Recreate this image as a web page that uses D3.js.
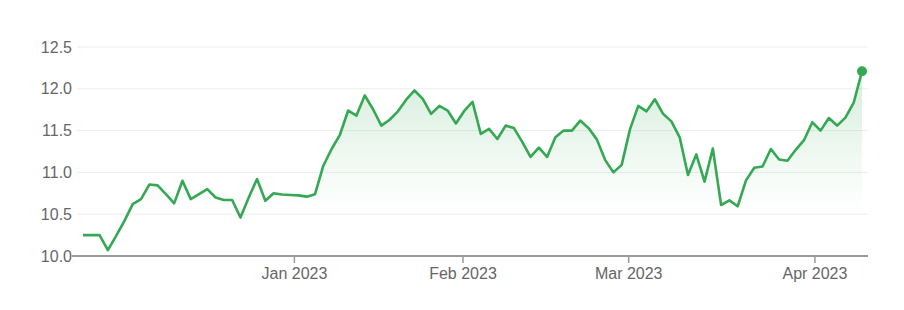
<!DOCTYPE html>
<html>
<head>
<meta charset="utf-8">
<script src="https://cdn.jsdelivr.net/npm/d3@7"></script>
<style>
  body { margin: 0; background: #fff; }
  svg { display: block; font-family: "Liberation Sans", Arial, sans-serif; }
</style>
</head>
<body>
<script>
// closing prices, one per trading day (late Nov 2022 -> mid Apr 2023)
const prices = [
  10.25, 10.25, 10.25, 10.07, 10.24, 10.42, 10.62, 10.68, 10.855, 10.845,
  10.74, 10.63, 10.90, 10.68, 10.74, 10.80, 10.70, 10.67, 10.67, 10.46,
  10.70, 10.92, 10.66, 10.75, 10.735, 10.73, 10.725, 10.71, 10.74, 11.08,
  11.28, 11.45, 11.74, 11.68, 11.92, 11.755, 11.56, 11.63, 11.73, 11.87,
  11.98, 11.88, 11.70, 11.795, 11.74, 11.585, 11.735, 11.845, 11.46, 11.52,
  11.40, 11.56, 11.53, 11.365, 11.185, 11.295, 11.185, 11.42, 11.50, 11.50,
  11.62, 11.53, 11.395, 11.15, 11.00, 11.09, 11.515, 11.795, 11.73, 11.875,
  11.70, 11.61, 11.42, 10.97, 11.215, 10.89, 11.285, 10.61, 10.665, 10.595,
  10.905, 11.055, 11.07, 11.28, 11.155, 11.14, 11.27, 11.385, 11.60, 11.50,
  11.65, 11.56, 11.655, 11.835, 12.21
];

// month starts, as (fractional) positions in the trading-day index
const monthLabels = ["Jan 2023", "Feb 2023", "Mar 2023", "Apr 2023"];
const monthPos = [25.45, 45.79, 65.79, 88.26];

const yTicks = [10, 10.5, 11, 11.5, 12, 12.5];

const width = 904, height = 310;
const margin = {top: 47, right: 36, bottom: 54, left: 77};
const pad = 6;

let svg = d3.select("body").append("svg")
    .attr("width", width)
    .attr("height", height);

let x = d3.scaleLinear()
    .domain([0, prices.length - 1])
    .range([margin.left + pad, width - margin.right - pad]);

let y = d3.scaleLinear()
    .domain([10, 12.5])
    .range([height - margin.bottom, margin.top]);

// gradient under the line, fades out before the baseline
let defs = svg.append("defs");
let grad = defs.append("linearGradient")
    .attr("id", "areaFill")
    .attr("gradientUnits", "userSpaceOnUse")
    .attr("x1", 0).attr("x2", 0)
    .attr("y1", y(d3.max(prices))).attr("y2", y(10));
grad.append("stop").attr("offset", "0%").attr("stop-color", "#34a853").attr("stop-opacity", 0.2);
grad.append("stop").attr("offset", "75%").attr("stop-color", "#34a853").attr("stop-opacity", 0);

// grid lines
svg.append("g")
    .selectAll("line")
    .data(yTicks.filter(d => d > 10))
    .enter().append("line")
    .attr("x1", margin.left)
    .attr("x2", width - margin.right)
    .attr("y1", d => y(d))
    .attr("y2", d => y(d))
    .attr("stroke", "#ededed")
    .attr("stroke-width", 1);

// y axis labels
let yAxis = svg.append("g")
    .attr("transform", `translate(${margin.left},0)`)
    .call(d3.axisLeft(y).tickValues(yTicks).tickFormat(d3.format(".1f")).tickSize(0).tickPadding(5));
yAxis.select(".domain").remove();
yAxis.selectAll("text")
    .attr("fill", "#666")
    .style("font-size", "16px");

// area + line
let area = d3.area()
    .x((d, i) => x(i))
    .y0(y(10))
    .y1(d => y(d));

let line = d3.line()
    .x((d, i) => x(i))
    .y(d => y(d));

svg.append("path")
    .datum(prices)
    .attr("d", area)
    .attr("fill", "url(#areaFill)");

// x axis
let xAxis = svg.append("g")
    .attr("transform", `translate(0,${y(10)})`)
    .call(d3.axisBottom(x)
        .tickValues(monthPos)
        .tickFormat((d, i) => monthLabels[i])
        .tickSize(7)
        .tickPadding(5));
xAxis.select(".domain").remove();
xAxis.selectAll(".tick line").attr("stroke", "#9a9a9a").attr("stroke-width", 1.5);
xAxis.selectAll("text")
    .attr("fill", "#666")
    .style("font-size", "16px");

svg.append("line")
    .attr("x1", margin.left - 5)
    .attr("x2", width - margin.right)
    .attr("y1", y(10))
    .attr("y2", y(10))
    .attr("stroke", "#9a9a9a")
    .attr("stroke-width", 2);

svg.append("path")
    .datum(prices)
    .attr("d", line)
    .attr("fill", "none")
    .attr("stroke", "#34a853")
    .attr("stroke-width", 2.6)
    .attr("stroke-linejoin", "round");

// last point marker
let last = prices.length - 1;
svg.append("circle")
    .attr("cx", x(last))
    .attr("cy", y(prices[last]))
    .attr("r", 5)
    .attr("fill", "#34a853");
</script>
</body>
</html>
